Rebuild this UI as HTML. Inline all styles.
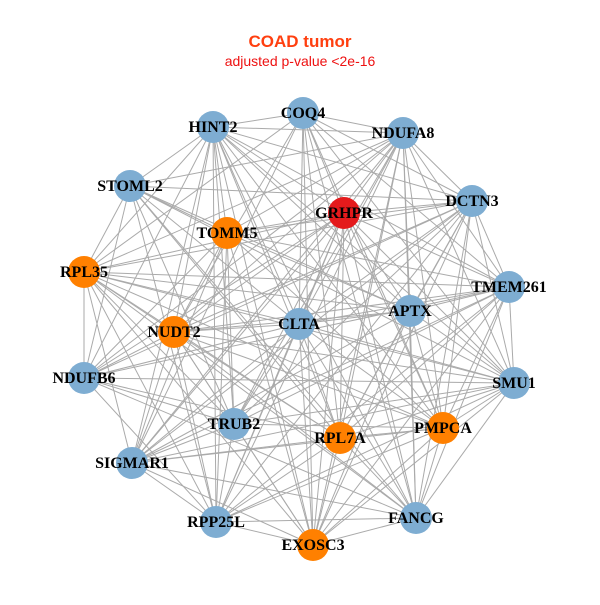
<!DOCTYPE html>
<html><head><meta charset="utf-8"><style>
body{margin:0;background:#fff;width:600px;height:600px;overflow:hidden}
</style></head><body>
<svg id="s" width="600" height="600" xmlns="http://www.w3.org/2000/svg">
<rect width="600" height="600" fill="#fff"/>
<text x="300" y="47" text-anchor="middle" font-family="Liberation Sans, sans-serif" font-weight="bold" font-size="17" fill="#ff3f0f">COAD tumor</text>
<text x="300" y="66" text-anchor="middle" font-family="Liberation Sans, sans-serif" font-size="14" fill="#ee1111">adjusted p-value &lt;2e-16</text>
<g id="edges" stroke="#aaaaaa" stroke-width="1"></g>
<g id="nodes"></g>
</svg>
<script>
var N=[["COQ4",303,113,"b"],["HINT2",213,127,"b"],["NDUFA8",403,133,"b"],["STOML2",130,186,"b"],["DCTN3",472,201,"b"],["GRHPR",344,213,"r"],["TOMM5",227,233,"o"],["RPL35",84,272,"o"],["TMEM261",509,287,"b"],["APTX",410,311,"b"],["CLTA",299,324,"b"],["NUDT2",174,332,"o"],["NDUFB6",84,378,"b"],["SMU1",514,383,"b"],["PMPCA",443,428,"o"],["TRUB2",234,424,"b"],["RPL7A",340,438,"o"],["SIGMAR1",132,463,"b"],["RPP25L",216,522,"b"],["FANCG",416,518,"b"],["EXOSC3",313,545,"o"]];
var C={b:"#7eadd2",o:"#ff8000",r:"#e41a1c"};
var ns="http://www.w3.org/2000/svg",E=document.getElementById("edges"),G=document.getElementById("nodes");
for(var i=0;i<N.length;i++)for(var j=i+1;j<N.length;j++){
 if((i*7+j*3)%9==0)continue;
 var l=document.createElementNS(ns,"line");
 l.setAttribute("x1",N[i][1]);l.setAttribute("y1",N[i][2]);l.setAttribute("x2",N[j][1]);l.setAttribute("y2",N[j][2]);E.appendChild(l);}
N.forEach(function(n){
 var c=document.createElementNS(ns,"circle");c.setAttribute("cx",n[1]);c.setAttribute("cy",n[2]);c.setAttribute("r",16);c.setAttribute("fill",C[n[3]]);G.appendChild(c);});
N.forEach(function(n){
 var t=document.createElementNS(ns,"text");t.setAttribute("x",n[1]);t.setAttribute("y",n[2]+5);t.setAttribute("text-anchor","middle");
 t.setAttribute("font-family","Liberation Serif, serif");t.setAttribute("font-weight","bold");t.setAttribute("font-size","16");t.textContent=n[0];G.appendChild(t);});
</script>
</body></html>
